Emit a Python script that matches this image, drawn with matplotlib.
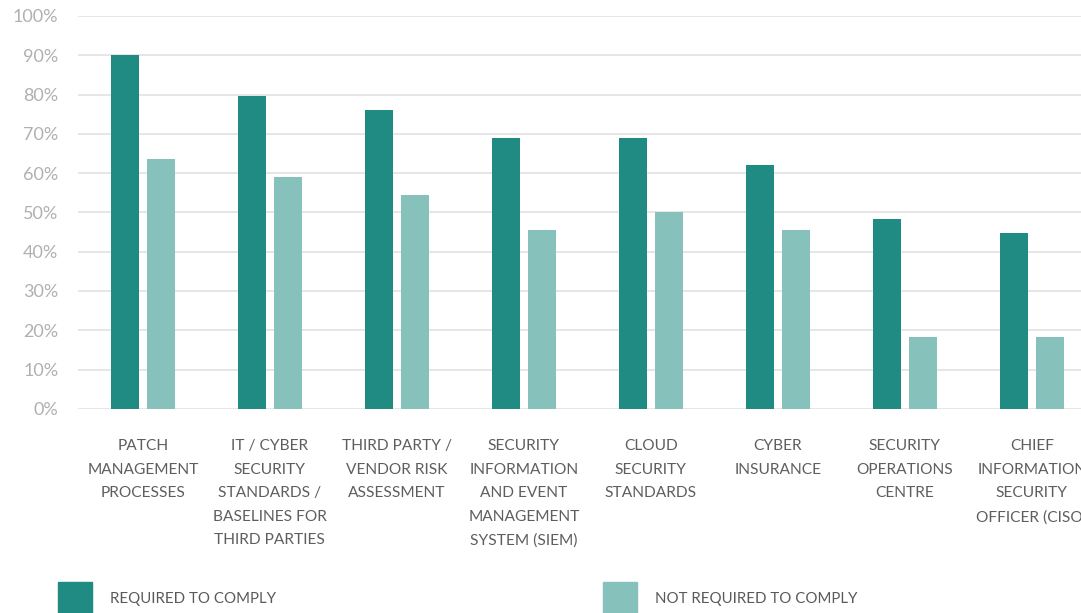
import numpy as np
import matplotlib
matplotlib.use("Agg")
import matplotlib.pyplot as plt
from matplotlib.patches import Rectangle

# Share of organisations with each control in place
categories = [
    "PATCH\nMANAGEMENT\nPROCESSES",
    "IT / CYBER\nSECURITY\nSTANDARDS /\nBASELINES FOR\nTHIRD PARTIES",
    "THIRD PARTY /\nVENDOR RISK\nASSESSMENT",
    "SECURITY\nINFORMATION\nAND EVENT\nMANAGEMENT\nSYSTEM (SIEM)",
    "CLOUD\nSECURITY\nSTANDARDS",
    "CYBER\nINSURANCE",
    "SECURITY\nOPERATIONS\nCENTRE",
    "CHIEF\nINFORMATION\nSECURITY\nOFFICER (CISO)",
]
required = [90, 79.5, 76, 69, 69, 62, 48.3, 44.8]
not_required = [63.6, 59, 54.5, 45.5, 50, 45.5, 18.3, 18.3]
series_names = ["REQUIRED TO COMPLY", "NOT REQUIRED TO COMPLY"]

dark = "#1f8b82"
light = "#86c1bc"

plt.rcParams["font.family"] = ["Lato", "DejaVu Sans"]

fig = plt.figure(figsize=(10.81, 6.13), dpi=100)
ax = fig.add_axes([0.072, 0.333, 1.0, 0.641])

x = np.arange(len(categories))
w = 0.22
ax.bar(x - 0.142, required, width=w, color=dark, zorder=3)
ax.bar(x + 0.142, not_required, width=w, color=light, zorder=3)

ax.set_xlim(-0.512, 8.0)
ax.set_ylim(0, 100)
ax.set_yticks(np.arange(0, 101, 10))
ax.set_yticklabels([f"{v}%" for v in range(0, 101, 10)])
ax.grid(axis="y", color="#e2e2e2", linewidth=1.2, zorder=0)
for s in ax.spines.values():
    s.set_visible(False)
ax.tick_params(axis="y", length=0, pad=14, labelsize=13, labelcolor="#b0b0b0")

ax.set_xticks(x)
ax.set_xticklabels(categories, linespacing=1.86)
ax.tick_params(axis="x", length=0, pad=22, labelsize=11.2, labelcolor="#5e5e5e")

# legend drawn below the plot
fig.patches.append(Rectangle((58 / 1081, 0), 34 / 1081, 31 / 613,
                             transform=fig.transFigure, color=dark))
fig.patches.append(Rectangle((603 / 1081, 0), 34 / 1081, 31 / 613,
                             transform=fig.transFigure, color=light))
fig.text(110 / 1081, 1 - 599 / 613, series_names[0], fontsize=10.8,
         color="#5a5a5a", va="center")
fig.text(655 / 1081, 1 - 599 / 613, series_names[1], fontsize=10.8,
         color="#5a5a5a", va="center")

fig.savefig("out.png", dpi=100)
